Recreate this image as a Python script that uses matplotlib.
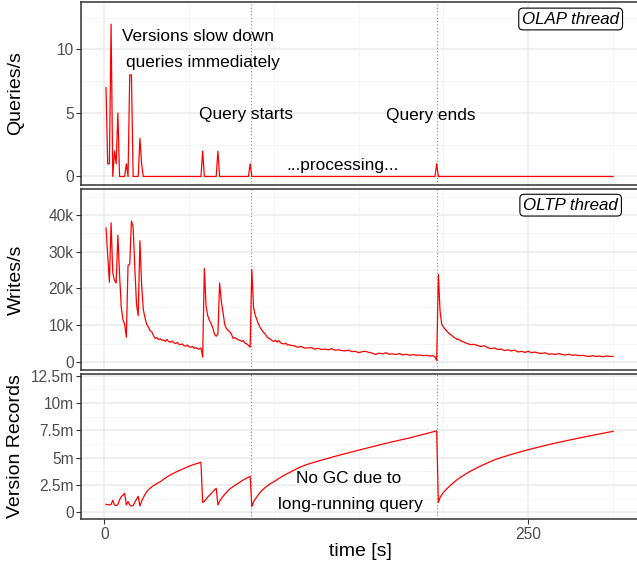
import numpy as np
import matplotlib
matplotlib.use("Agg")
import matplotlib.pyplot as plt

plt.rcParams['font.family'] = ['Liberation Sans', 'DejaVu Sans']

# OLAP thread: finished queries per second
q_time = [1, 2, 3, 4, 5, 6, 7, 8, 9, 12, 13, 14, 15, 16, 17, 20, 21, 22, 23,
          57, 58, 59, 66, 67, 68, 85, 86, 87, 195, 196, 197, 300]
q_vals = [7, 1, 1, 12, 0, 2, 1, 5, 0, 0, 1, 0, 8, 8, 0, 0, 3, 1, 0,
          0, 2, 0, 0, 2, 0, 0, 1, 0, 0, 1, 0, 0]

# OLTP thread: writes per second (thousands)
w_time = list(range(1, 111)) + list(range(112, 195, 2)) + [195, 196] + \
    list(range(197, 211)) + list(range(212, 301, 2))
w_vals = [36.5, 29.0, 21.7, 37.9, 24.3, 22.2, 21.5, 34.5, 23.8, 14.9,
          11.5, 10.2, 6.7, 26.3, 26.7, 38.4, 36.7, 25.6, 15.6, 12.6,
          33.0, 21.0, 14.3, 12.0, 10.2, 9.5, 8.5, 8.2, 7.2, 6.4,
          6.6, 6.1, 6.3, 5.9, 6.0, 5.6, 6.1, 5.5, 5.4, 5.7,
          5.2, 5.0, 5.3, 4.8, 4.7, 4.9, 4.4, 4.3, 4.6, 4.1,
          4.0, 4.2, 3.7, 3.9, 3.6, 3.5, 3.8, 1.3, 25.5, 15.2,
          12.6, 11.3, 10.4, 9.3, 7.5, 7.0, 7.6, 21.5, 16.5, 13.5,
          10.2, 9.1, 8.6, 8.2, 7.5, 6.4, 6.6, 6.3, 6.0, 5.9,
          5.6, 5.8, 5.1, 4.9, 4.5, 4.0, 25.2, 14.9, 12.7, 11.5,
          10.2, 9.3, 8.6, 8.0, 7.5, 6.8, 6.4, 6.2, 5.8, 5.6,
          5.9, 5.4, 5.8, 5.2, 5.0, 4.9, 5.1, 4.6, 4.7, 4.5,
          4.4, 4.0, 4.2, 3.8, 3.8, 3.9, 3.5, 3.7, 3.4, 3.5,
          3.3, 3.6, 3.2, 3.3, 3.1, 3.0, 3.2, 2.8, 2.9, 2.5,
          2.8, 2.9, 2.6, 2.4, 2.0, 2.4, 2.2, 2.5, 2.1, 2.2,
          2.0, 2.3, 1.9, 2.1, 1.8, 2.0, 1.8, 1.9, 1.7, 1.8,
          1.6, 1.7, 1.3, 0.4,
          23.8, 13.8, 10.2, 9.5, 8.9, 8.4, 7.9, 7.5, 7.2, 6.7,
          6.5, 6.1, 6.2, 5.8,
          5.4, 5.0, 4.7, 4.8, 4.5, 4.2, 4.4, 3.9, 3.6, 3.8,
          3.4, 3.5, 3.1, 3.3, 3.0, 3.2, 2.7, 2.9, 2.6, 2.9,
          2.5, 2.7, 2.4, 2.3, 2.5, 2.1, 2.2, 2.0, 2.3, 2.0,
          1.9, 2.1, 1.8, 1.9, 1.7, 1.8, 1.6, 1.5, 1.7, 1.5,
          1.6, 1.4, 1.6, 1.5, 1.5]

# version records (millions)
v_time = [1, 2, 3, 4, 5, 6, 7, 8, 9, 10, 11, 12, 13, 14, 15, 16, 17, 18, 19, 20,
          21, 22, 23, 24, 25, 26, 27, 28, 29, 31, 33, 35, 37, 39, 42, 44, 47, 49,
          52, 55, 57,
          58, 59, 60, 61, 62, 63, 64, 65, 66,
          67, 68, 69, 70, 71, 72, 73, 74, 76, 78, 80, 82, 84, 86,
          87, 88, 89, 90, 91, 92, 93, 94, 96, 98, 100, 103, 106, 110, 115, 120,
          125, 130, 135, 140, 145, 150, 160, 170, 180, 185, 190, 196,
          197, 198, 199, 200, 202, 205, 208, 210, 215, 220, 225, 230, 235, 240,
          245, 250, 255, 260, 265, 270, 275, 280, 285, 290, 295, 300]
v_vals = [0.73, 0.70, 0.67, 0.73, 1.10, 0.67, 0.60, 0.73, 1.13, 1.43, 1.58,
          1.74, 0.67, 0.98, 0.67, 0.58, 0.61, 0.91, 1.22, 1.46,
          0.58, 1.00, 1.35, 1.62, 1.89, 2.05, 2.20, 2.33, 2.44, 2.63, 2.80,
          3.02, 3.23, 3.42, 3.66, 3.80, 4.02, 4.15, 4.33, 4.48, 4.57,
          0.91, 1.00, 1.20, 1.40, 1.55, 1.72, 1.88, 2.05, 2.20,
          0.67, 1.00, 1.25, 1.45, 1.65, 1.82, 1.98, 2.13, 2.36, 2.56, 2.76,
          2.96, 3.13, 3.30,
          0.52, 0.95, 1.20, 1.43, 1.65, 1.85, 2.00, 2.15, 2.40, 2.62, 2.80,
          3.10, 3.38, 3.70, 4.10, 4.40, 4.63, 4.85, 5.07, 5.28, 5.48, 5.68,
          6.07, 6.45, 6.80, 7.00, 7.20, 7.44,
          0.91, 1.35, 1.60, 1.83, 2.15, 2.60, 2.98, 3.20, 3.68, 4.09, 4.45,
          4.79, 5.05, 5.29, 5.51, 5.72, 5.92, 6.11, 6.29, 6.46, 6.63, 6.79,
          6.95, 7.10, 7.25, 7.40]

query_marks = [86.3, 196.2]

W, H = 637, 565
fig = plt.figure(figsize=(W / 100, H / 100), dpi=100)


def panel(top, bottom):
    return fig.add_axes([81.3 / W, 1 - bottom / H, (640 - 81.3) / W, (bottom - top) / H])


ax1 = panel(2, 185)
ax2 = panel(189, 370)
ax3 = panel(374, 519)

red = '#FF0000'
ax1.plot(q_time, q_vals, color=red, lw=0.9, zorder=3)
ax2.plot(w_time, w_vals, color=red, lw=0.9, zorder=3)
ax3.plot(v_time, v_vals, color=red, lw=0.9, zorder=3)

ax1.set_ylim(-0.67, 13.74)
ax1.set_yticks([0, 5, 10])
ax1.set_yticks([2.5, 7.5, 12.5], minor=True)

ax2.set_ylim(-2.2, 47.1)
ax2.set_yticks([0, 10, 20, 30, 40])
ax2.set_yticklabels(['0', '10k', '20k', '30k', '40k'])
ax2.set_yticks([5, 15, 25, 35, 45], minor=True)

ax3.set_ylim(-0.61, 12.64)
ax3.set_yticks([0, 2.5, 5, 7.5, 10, 12.5])
ax3.set_yticklabels(['0', '2.5m', '5m', '7.5m', '10m', '12.5m'])
ax3.set_yticks([1.25, 3.75, 6.25, 8.75, 11.25], minor=True)

for ax in (ax1, ax2, ax3):
    ax.set_xlim(-13.56, 315.9)
    ax.set_xticks([0, 250])
    ax.set_xticks([50, 100, 150, 200, 300], minor=True)
    ax.grid(True, which='major', color='#EBEBEB', lw=1.1, zorder=0)
    ax.grid(True, which='minor', color='#F2F2F2', lw=0.6, zorder=0)
    ax.set_axisbelow(True)
    for s in ax.spines.values():
        s.set_color('#333333')
        s.set_linewidth(1.1)
    ax.spines['right'].set_visible(False)
    ax.tick_params(which='major', length=3.5, width=0.8, color='#333333',
                   labelcolor='#4D4D4D', labelsize=11.2, pad=2)
    ax.tick_params(which='minor', length=0)
    for x in query_marks:
        ax.axvline(x, color='#888888', lw=0.8, ls=(0, (1, 2)), zorder=2)

ax1.tick_params(axis='x', which='major', length=0, labelbottom=False)
ax2.tick_params(axis='x', which='major', length=0, labelbottom=False)

txt = dict(fontsize=12.4, ha='center', va='center', color='black')
ax1.text(55, 11.0, 'Versions slow down', **txt)
ax1.text(58.2, 9.0, 'queries immediately', **txt)
ax1.text(83.4, 4.92, 'Query starts', **txt)
ax1.text(192.6, 4.84, 'Query ends', **txt)
ax1.text(140.2, 0.9, '...processing...', **txt)
ax3.text(144.3, 3.05, 'No GC due to', **txt)
ax3.text(144.9, 0.67, 'long-running query', **txt)

box = dict(boxstyle='round,pad=0.2,rounding_size=0.25', fc='white', ec='black', lw=0.8)
ax1.text(275, 12.4, 'OLAP thread', style='italic', fontsize=12.2,
         ha='center', va='center', bbox=box, zorder=5)
ax2.text(275, 42.7, 'OLTP thread', style='italic', fontsize=12.2,
         ha='center', va='center', bbox=box, zorder=5)

fig.text(16 / W, 1 - 93.5 / H, 'Queries/s', rotation=90, ha='center', va='center', fontsize=14)
fig.text(16 / W, 1 - 279.5 / H, 'Writes/s', rotation=90, ha='center', va='center', fontsize=14)
fig.text(16 / W, 1 - 446.5 / H, 'Version Records', rotation=90, ha='center', va='center', fontsize=14)
fig.text(360.6 / W, 1 - 552 / H, 'time [s]', ha='center', va='center', fontsize=14)

fig.savefig('out.png', dpi=100)
